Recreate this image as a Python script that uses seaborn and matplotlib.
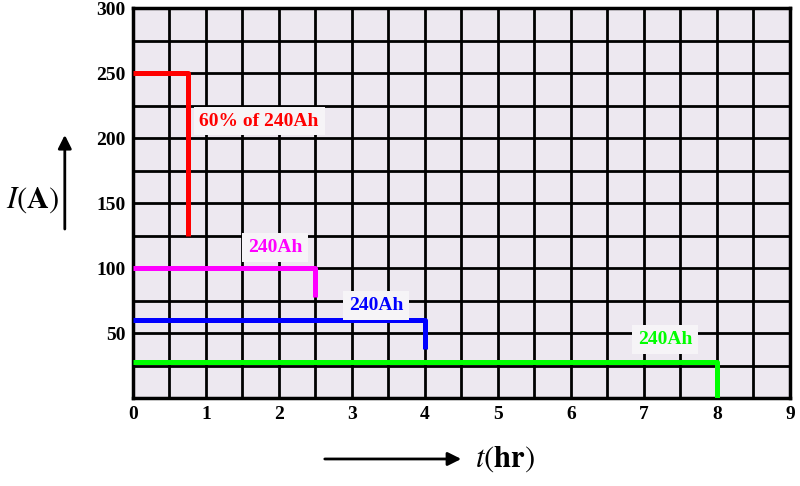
import numpy as np
import pandas as pd
import matplotlib
matplotlib.use('Agg')
import matplotlib.pyplot as plt
import seaborn as sns

# ---------------------------------------------------------------------------
# data: constant-current discharge of a 240Ah battery
# ---------------------------------------------------------------------------
series = ['red', 'magenta', 'blue', 'green']
current = [250, 100, 60, 28]          # A
duration = [0.75, 2.5, 4.0, 8.0]      # hr
cutoff = [125, 78, 38, 0]             # A, end of the vertical drop
labels = ['60% of 240Ah', '240Ah', '240Ah', '240Ah']
label_x = [1.73, 1.95, 3.33, 7.29]
label_y = [213, 116, 71, 45]

x_ticks = list(range(0, 10))
y_ticks = [50, 100, 150, 200, 250, 300]

palette = {'red': '#ff0000', 'magenta': '#ff00ff', 'blue': '#0000ff', 'green': '#00ff00'}

rows = []
for s, i, d, c in zip(series, current, duration, cutoff):
    rows += [(s, 0, 0.0, i), (s, 1, d, i), (s, 2, d, c)]
df = pd.DataFrame(rows, columns=['series', 'k', 't', 'I'])

# ---------------------------------------------------------------------------
sns.set_theme(style='white')
plt.rcParams['font.family'] = ['Liberation Serif', 'DejaVu Serif']
plt.rcParams['mathtext.fontset'] = 'stix'
plt.rcParams['text.color'] = 'black'
plt.rcParams['xtick.color'] = 'black'
plt.rcParams['ytick.color'] = 'black'

fig = plt.figure(figsize=(8, 4.86), dpi=100)
ax = fig.add_axes([0.166, 0.181, 0.8215, 0.8025])
ax.set_facecolor('#ede8f0')

sns.lineplot(data=df, x='t', y='I', hue='series', units='series', estimator=None,
             sort=False, palette=palette, linewidth=3.6, legend=False, ax=ax,
             zorder=5, solid_capstyle='butt')

ax.set_xlim(0, 9)
ax.set_ylim(0, 300)
ax.set_xticks(x_ticks)
ax.set_xticks(np.arange(0, 9.01, 0.5), minor=True)
ax.set_yticks(y_ticks)
ax.set_yticks(np.arange(0, 301, 25), minor=True)
ax.grid(True, which='both', color='black', linewidth=2.0)
ax.set_axisbelow(True)
ax.tick_params(which='both', length=0)
ax.tick_params(axis='x', pad=6)
ax.tick_params(axis='y', pad=5)
for lab in ax.get_xticklabels() + ax.get_yticklabels():
    lab.set_fontweight('bold')
    lab.set_fontsize(14)
    lab.set_color('black')
for sp in ax.spines.values():
    sp.set_color('black')
    sp.set_linewidth(2.5)
ax.set_xlabel('')
ax.set_ylabel('')

for s, txt, x, y in zip(series, labels, label_x, label_y):
    ax.text(x, y, txt, color=palette[s], fontsize=14, fontweight='bold',
            ha='center', va='center', zorder=6,
            bbox=dict(boxstyle='square,pad=0.3', facecolor='#f6f4f7', edgecolor='none'))

# axis captions with arrows
fig.text(0.041, 0.588, r'$I(\mathbf{A})$', fontsize=22, ha='center', va='center',
         color='black')
fig.add_artist(matplotlib.patches.FancyArrowPatch((0.081, 0.523), (0.081, 0.728),
               transform=fig.transFigure, arrowstyle='-|>,head_length=8,head_width=4',
               color='black', linewidth=2))
fig.text(0.631, 0.056, r'$t(\mathbf{hr})$', fontsize=22, ha='center', va='center',
         color='black')
fig.add_artist(matplotlib.patches.FancyArrowPatch((0.4025, 0.0556), (0.58, 0.0556),
               transform=fig.transFigure, arrowstyle='-|>,head_length=8,head_width=4',
               color='black', linewidth=2))

fig.savefig('out.png', dpi=100, facecolor='white')
